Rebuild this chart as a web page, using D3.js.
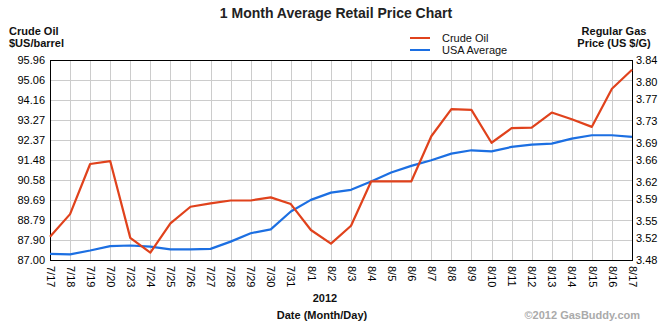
<!DOCTYPE html>
<html>
<head>
<meta charset="utf-8">
<script src="https://cdn.jsdelivr.net/npm/d3@7"></script>
<style>
  html, body { margin: 0; padding: 0; background: #fff; }
  svg { display: block; font-family: "Liberation Sans", Arial, sans-serif; }
</style>
</head>
<body>
<svg id="chart" width="670" height="325"></svg>
<script>
const categories = ["7/17","7/18","7/19","7/20","7/23","7/24","7/25","7/26","7/27","7/28","7/29","7/30","7/31",
  "8/1","8/2","8/3","8/4","8/5","8/6","8/7","8/8","8/9","8/10","8/11","8/12","8/13","8/14","8/15","8/16","8/17"];
const crudeOil = [88.04, 89.05, 91.29, 91.42, 87.99, 87.33, 88.64, 89.38, 89.53, 89.66, 89.66, 89.80, 89.50,
  88.34, 87.73, 88.53, 90.51, 90.51, 90.51, 92.53, 93.74, 93.71, 92.24, 92.89, 92.92, 93.59, 93.29, 92.95, 94.65, 95.50];
const usaAverage = [3.491, 3.490, 3.497, 3.505, 3.506, 3.504, 3.499, 3.499, 3.500, 3.513, 3.528, 3.535, 3.567,
  3.588, 3.601, 3.606, 3.621, 3.637, 3.649, 3.659, 3.671, 3.677, 3.675, 3.683, 3.687, 3.689, 3.698, 3.704, 3.704, 3.701];
const leftTicks = [87.00, 87.90, 88.79, 89.69, 90.58, 91.48, 92.37, 93.27, 94.16, 95.06, 95.96];
const rightTicks = [3.48, 3.52, 3.55, 3.59, 3.62, 3.66, 3.69, 3.73, 3.77, 3.80, 3.84];
const seriesNames = ["Crude Oil", "USA Average"];
const colors = ["#e0421c", "#1c6fe2"];

(function () {
const svg = d3.select("#chart");
const pL = 50, pR = 632, pT = 59.5, pB = 260;

const x = d3.scalePoint().domain(categories).range([pL, pR]);
const yL = d3.scaleLinear().domain([87.00, 95.96]).range([pB, pT]);
const yR = d3.scaleLinear().domain([3.48, 3.84]).range([pB, pT]);

// grid
const grid = svg.append("g").attr("stroke", "#cccccc").attr("stroke-width", 1).attr("shape-rendering", "crispEdges");
grid.selectAll("line.h").data(leftTicks).join("line").attr("class", "h")
  .attr("x1", pL).attr("x2", pR)
  .attr("y1", d => Math.round(yL(d)) + 0.5).attr("y2", d => Math.round(yL(d)) + 0.5);
grid.selectAll("line.v").data(categories).join("line").attr("class", "v")
  .attr("y1", pT).attr("y2", pB)
  .attr("x1", d => Math.round(x(d)) + 0.5).attr("x2", d => Math.round(x(d)) + 0.5);

// axes
const axL = svg.append("g").attr("transform", `translate(${pL},0)`)
  .call(d3.axisLeft(yL).tickValues(leftTicks).tickFormat(d3.format(".2f")).tickSize(0).tickPadding(5));
const axR = svg.append("g").attr("transform", `translate(${pR},0)`)
  .call(d3.axisRight(yR).tickValues(rightTicks).tickFormat(d3.format(".2f")).tickSize(0).tickPadding(4));
const axB = svg.append("g").attr("transform", `translate(0,${pB})`)
  .call(d3.axisBottom(x).tickSize(0).tickPadding(0));
[axL, axR, axB].forEach(a => {
  a.select(".domain").remove();
  a.selectAll("text").attr("font-size", 11).attr("fill", "#000")
    .attr("font-family", "'Liberation Sans', Arial, sans-serif");
});
axB.selectAll("text")
  .attr("transform", "rotate(90)")
  .attr("x", 6).attr("y", 0).attr("dy", "0.35em")
  .attr("text-anchor", "start");

// frame
svg.append("rect").attr("x", pL + 0.5).attr("y", Math.round(pT) + 0.5)
  .attr("width", pR - pL).attr("height", pB - Math.round(pT))
  .attr("fill", "none").attr("stroke", "#000").attr("stroke-width", 1).attr("shape-rendering", "crispEdges");

// lines
const lineL = d3.line().x((d, i) => x(categories[i])).y(d => yL(d));
const lineR = d3.line().x((d, i) => x(categories[i])).y(d => yR(d));
svg.append("path").datum(usaAverage).attr("d", lineR).attr("fill", "none")
  .attr("stroke", colors[1]).attr("stroke-width", 2.2).attr("stroke-linejoin", "round");
svg.append("path").datum(crudeOil).attr("d", lineL).attr("fill", "none")
  .attr("stroke", colors[0]).attr("stroke-width", 2.2).attr("stroke-linejoin", "round");

// title
svg.append("text").attr("x", 336).attr("y", 18).attr("text-anchor", "middle")
  .attr("font-size", 14).attr("font-weight", "bold").attr("fill", "#222")
  .text("1 Month Average Retail Price Chart");

// axis titles
const lt = svg.append("text").attr("font-size", 11).attr("font-weight", "bold").attr("fill", "#111");
lt.append("tspan").attr("x", 9).attr("y", 35).text("Crude Oil");
lt.append("tspan").attr("x", 9).attr("y", 47).text("$US/barrel");
const rt = svg.append("text").attr("font-size", 11).attr("font-weight", "bold").attr("fill", "#111").attr("text-anchor", "middle");
rt.append("tspan").attr("x", 614).attr("y", 35).text("Regular Gas");
rt.append("tspan").attr("x", 614).attr("y", 47).text("Price (US $/G)");

// legend
const lg = svg.append("g");
seriesNames.forEach((n, i) => {
  const yy = 38 + i * 12;
  lg.append("line").attr("x1", 410).attr("x2", 430).attr("y1", yy).attr("y2", yy)
    .attr("stroke", colors[i]).attr("stroke-width", 2);
  lg.append("text").attr("x", 442).attr("y", yy + 4).attr("font-size", 11).attr("fill", "#111").text(n);
});

// x titles
svg.append("text").attr("x", 325).attr("y", 302).attr("text-anchor", "middle")
  .attr("font-size", 11).attr("font-weight", "bold").attr("fill", "#111").text("2012");
svg.append("text").attr("x", 322).attr("y", 319).attr("text-anchor", "middle")
  .attr("font-size", 11).attr("font-weight", "bold").attr("fill", "#111").text("Date (Month/Day)");
svg.append("text").attr("x", 640).attr("y", 319).attr("text-anchor", "end")
  .attr("font-size", 11).attr("font-weight", "bold").attr("fill", "#aaa").text("©2012 GasBuddy.com");
})();
</script>
</body>
</html>
